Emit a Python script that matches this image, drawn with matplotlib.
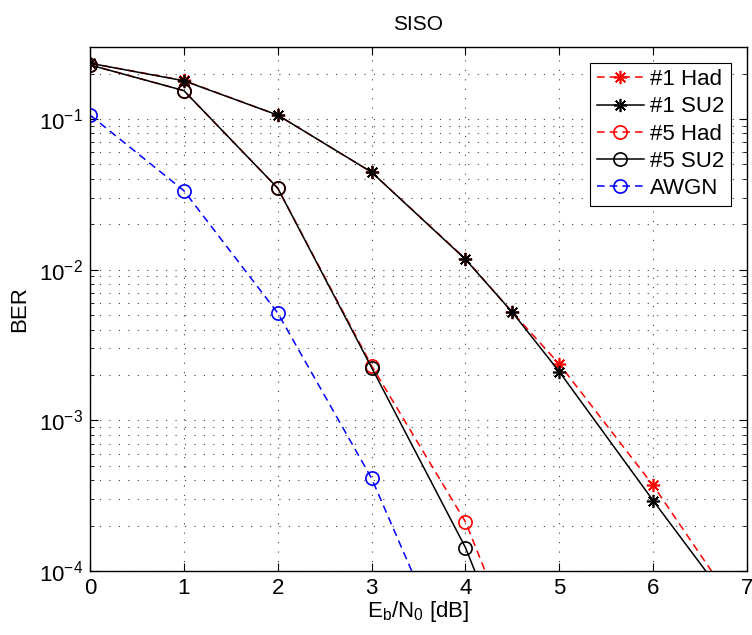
import numpy as np
import matplotlib
matplotlib.use('Agg')
import matplotlib.pyplot as plt
from matplotlib.ticker import LogLocator, NullFormatter

plt.rcParams['font.family'] = ['Liberation Sans', 'DejaVu Sans']
plt.rcParams['mathtext.fontset'] = 'custom'
plt.rcParams['mathtext.rm'] = 'Liberation Sans'
plt.rcParams['mathtext.it'] = 'Liberation Sans'

# values
snr_1 = [0, 1, 2, 3, 4, 4.5, 5, 6, 7]
ber_1_had = [0.234, 0.180, 0.106, 0.0443, 0.0118, 0.0052, 0.00236, 3.7e-4, 4.5e-5]
ber_1_su2 = [0.234, 0.179, 0.106, 0.0443, 0.0117, 0.0052, 0.00210, 2.93e-4, 4.3e-5]

snr_5 = [0, 1, 2, 3, 4, 5]
ber_5_had = [0.228, 0.154, 0.0347, 0.00230, 2.12e-4, 5.9e-6]
ber_5_su2 = [0.228, 0.154, 0.0347, 0.00224, 1.43e-4, 4.0e-6]

snr_awgn = [0, 1, 2, 3, 4]
ber_awgn = [0.106, 0.0334, 0.00515, 4.12e-4, 1.5e-5]

star = (8, 2, 0)
dash = (5, 3.3)

fig = plt.figure(figsize=(7.52, 6.35), dpi=100)
ax = fig.add_axes([0.1197, 0.1008, 0.8737, 0.8252])

common = dict(ms=9.5, mew=1.2, lw=1.1)
ax.semilogy(snr_1, ber_1_had, color='r', ls='--', dashes=dash, marker=star, label='#1 Had', **common)
ax.semilogy(snr_1, ber_1_su2, color='k', ls='-', marker=star, label='#1 SU2', **common)
ax.semilogy(snr_5, ber_5_had, color='r', ls='--', dashes=dash, marker='o', mfc='none', label='#5 Had', **common)
ax.semilogy(snr_5, ber_5_su2, color='k', ls='-', marker='o', mfc='none', label='#5 SU2', **common)
ax.semilogy(snr_awgn, ber_awgn, color='b', ls='--', dashes=dash, marker='o', mfc='none', label='AWGN', **common)

ax.set_xlim(0, 7)
ax.set_ylim(1e-4, 0.3)
ax.set_xticks(range(8))
ax.yaxis.set_major_locator(LogLocator(base=10, numticks=10))
ax.yaxis.set_minor_locator(LogLocator(base=10, subs=np.arange(2, 10), numticks=20))
ax.yaxis.set_minor_formatter(NullFormatter())

grid_style = dict(linestyle=(0, (1, 7.5)), color='0.25', lw=0.8)
ax.grid(True, which='major', axis='both', **grid_style)
ax.grid(True, which='minor', axis='y', **grid_style)
ax.tick_params(which='both', direction='in', top=True, right=True, labelsize=16)
ax.tick_params(which='major', length=6, pad=5)
ax.tick_params(which='minor', length=3)
for s in ax.spines.values():
    s.set_linewidth(1.0)

ax.set_title('SISO', fontsize=15, pad=12)
ax.set_xlabel(r'E$_\mathregular{b}$/N$_\mathregular{0}$ [dB]', fontsize=16, labelpad=0)
ax.set_ylabel('BER', fontsize=16, labelpad=6)

leg = ax.legend(loc='upper right', fontsize=16, fancybox=False, framealpha=1,
                edgecolor='k', handlelength=2.1, handletextpad=0.3,
                borderaxespad=0.7, labelspacing=0.28, borderpad=0.3)
leg.get_frame().set_linewidth(0.8)

fig.savefig('out.png', dpi=100)
